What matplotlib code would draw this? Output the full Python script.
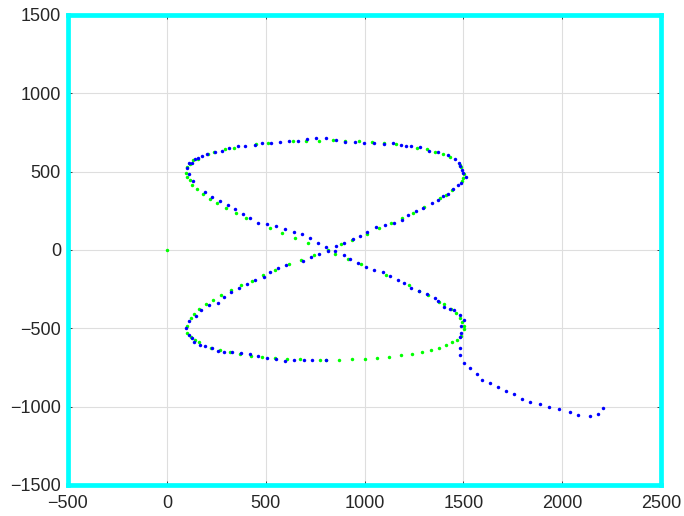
import matplotlib
matplotlib.use('Agg')
import matplotlib.pyplot as plt

# trayectoria de referencia (verde)
green_x = [0,
           769, 702, 638, 512, 453, 340, 293, 239, 209, 160, 133, 115, 104, 96, 104,
           116, 128, 153, 182, 217, 256, 298, 352, 402, 524, 582, 646,
           840, 902, 971, 1039, 1098, 1157, 1266, 1315, 1359, 1396, 1431, 1482, 1490,
           1505, 1498, 1493, 1444, 1414, 1384, 1300, 1244, 1192, 1136, 1074, 1012, 938,
           716, 744, 680, 618, 549, 487, 431, 374, 323, 274, 234, 197, 163, 138, 123,
           103, 104, 120, 141, 165, 221, 271, 322, 372, 428, 483, 546, 609, 673, 776,
           880, 813, 852, 914, 983, 1109, 1224, 1276, 1323, 1379, 1404, 1438, 1461,
           1482, 1492, 1502, 1502, 1488, 1468, 1443, 1412, 1377, 1335, 1290, 1239,
           1185, 1125, 1064, 1002, 938, 869, 806]
green_y = [0,
           698, 695, 693, 685, 676, 653, 644, 625, 610, 583, 572, 547, 528, 490, 468,
           444, 413, 387, 357, 327, 298, 268, 236, 206, 140, 106, 74,
           700, 695, 693, 689, 685, 674, 653, 642, 627, 610, 591, 544, 527,
           487, 462, 440, 383, 351, 330, 272, 234, 206, 170, 138, 102, 66,
           43, -32, -62, -92, -130, -162, -196, -226, -257, -287, -321, -347, -379, -406, -434,
           -483, -532, -553, -576, -587, -625, -638, -653, -661, -674, -683, -689, -693, -698, -702,
           38, 0, -26, -57, -91, -157, -223, -264, -289, -332, -345, -379, -404,
           -434, -459, -483, -506, -547, -572, -589, -606, -623, -636, -649, -661,
           -672, -681, -687, -693, -698, -702, -702]

# trayectoria estimada (azul)
blue_x = [756, 707, 663, 618, 572, 529, 482, 444, 394, 359, 317, 278, 244, 204, 180,
          158, 141, 125, 113, 104, 111, 130, 192, 226, 268, 308, 345, 386, 421, 461,
          508, 552, 598, 641, 685, 726,
          806, 854, 899, 950, 997, 1047, 1098, 1143, 1185, 1209, 1234, 1283, 1328,
          1374, 1421, 1458, 1478, 1485, 1495, 1500, 1512, 1488, 1471, 1448, 1421,
          1399, 1372, 1340, 1296, 1263, 1221, 1190, 1147, 1103, 1059, 1015, 978, 944,
          766, 769, 729, 690, 604, 561, 524, 492, 448, 407, 364, 323, 290, 258, 214,
          175, 146, 113, 99, 113, 126, 138, 167, 194, 229, 261, 290, 330, 375, 419,
          463, 508, 552, 596, 643, 694, 736, 806,
          806, 855, 894, 815, 852, 894, 926, 965, 1007, 1047, 1094, 1128, 1167, 1200,
          1237, 1278, 1318, 1355, 1374, 1401, 1434, 1455, 1483, 1502, 1487, 1488,
          1485, 1483, 1485, 1502, 1532,
          1567, 1596, 1633, 1675, 1714, 1754, 1795, 1837, 1886, 1931, 1982, 2039,
          2082, 2140, 2183, 2205]
blue_y = [717, 706, 693, 695, 689, 681, 685, 672, 666, 666, 651, 634, 627, 615, 600,
          587, 578, 557, 553, 525, 483, 442, 372, 340, 315, 287, 262, 228, 202, 174,
          164, 151, 134, 115, 100, 74,
          712, 702, 691, 687, 685, 681, 674, 685, 670, 666, 664, 655, 632,
          625, 604, 578, 553, 536, 508, 493, 466, 430, 413, 389, 357,
          345, 319, 298, 266, 249, 221, 189, 170, 157, 145, 115, 89, 68,
          47, -28, -47, -70, -98, -115, -143, -172, -191, -219, -245, -266, -302, -336, -349,
          -381, -419, -455, -500, -544, -564, -587, -606, -612, -627, -644, -651, -653, -655, -664,
          -676, -687, -695, -710, -702, -702, -702, -700,
          21, 25, 45, -4, -4, -30, -60, -81, -108, -126, -140, -164, -189, -211,
          -242, -260, -281, -304, -325, -364, -374, -383, -417, -449, -485, -527,
          -555, -625, -672, -719, -755,
          -789, -827, -851, -876, -898, -919, -951, -968, -983, -1002, -1014, -1031,
          -1051, -1061, -1048, -1008]

x_ticks = [-500, 0, 500, 1000, 1500, 2000, 2500]
y_ticks = [-1500, -1000, -500, 0, 500, 1000, 1500]

plt.rcParams['font.family'] = ['Liberation Sans', 'DejaVu Sans']

fig = plt.figure(figsize=(6.84, 5.16), dpi=100)
ax = fig.add_axes([0.0994, 0.0601, 0.867, 0.9109])

ax.plot(green_x, green_y, 'o', color=(0, 1, 0), ms=2.5, mec='none', zorder=3)
ax.plot(blue_x, blue_y, 'o', color=(0, 0, 1), ms=2.5, mec='none', zorder=4)

ax.set_xlim(-500, 2500)
ax.set_ylim(-1500, 1500)
ax.set_xticks(x_ticks)
ax.set_yticks(y_ticks)
ax.grid(True, color='#dedede', linewidth=0.8)
ax.set_axisbelow(True)

ax.tick_params(direction='in', length=3, width=0.7, color='#404040',
               labelsize=13, labelcolor='#262626', top=True, right=True)
ax.tick_params(axis='x', pad=7)
ax.tick_params(axis='y', pad=5)

for s in ax.spines.values():
    s.set_color((0, 1, 1))
    s.set_linewidth(3.4)
    s.set_capstyle('projecting')
    s.set_zorder(5)

plt.savefig('out.png', dpi=100)
